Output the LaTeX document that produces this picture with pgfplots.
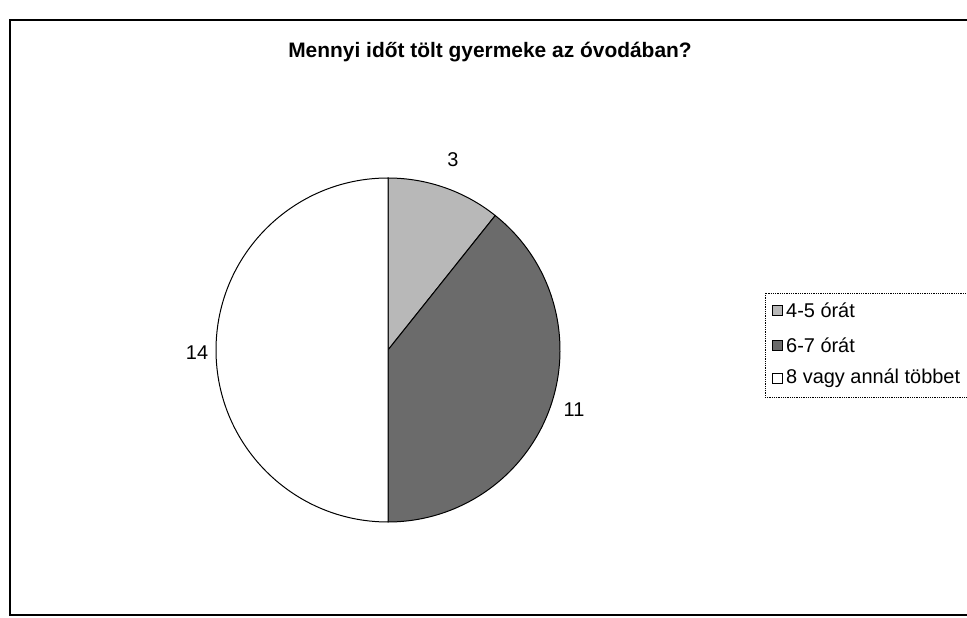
\documentclass[border=0pt]{standalone}
\usepackage{pgfplots}
\pgfplotsset{compat=1.18}
\usepackage{fontspec}
\setmainfont{Liberation Sans}

% slice values (clockwise from 12 o'clock)
\def\valA{3}
\def\valB{11}
\def\valC{14}

\definecolor{sliceA}{gray}{0.72}
\definecolor{sliceB}{gray}{0.42}

\begin{document}
\begin{tikzpicture}
    \begin{axis}[
        width=967bp,
        height=618bp,
        scale only axis,
        xmin=0, xmax=967,
        ymin=0, ymax=618,
        hide axis,
        clip=true
    ]
        \pgfmathsetmacro{\tot}{\valA+\valB+\valC}
        \pgfmathsetmacro{\aA}{90-360*\valA/\tot}
        \pgfmathsetmacro{\aB}{\aA-360*\valB/\tot}
        \pgfmathsetmacro{\aC}{\aB-360*\valC/\tot}

        % outer frame (right side runs off the picture)
        \draw[line width=1.3pt] (axis cs:10,3) rectangle (axis cs:990,598);

        % title
        \node[font=\fontsize{21}{25}\selectfont\bfseries] at (axis cs:490,566)
            {Mennyi időt tölt gyermeke az óvodában?};

        % pie slices, radius 172
        \filldraw[fill=sliceA, draw=black, line width=1pt]
            (axis cs:388,268) -- ++(90:172bp) arc[start angle=90, end angle=\aA, radius=172bp] -- cycle;
        \filldraw[fill=sliceB, draw=black, line width=1pt]
            (axis cs:388,268) -- ++(\aA:172bp) arc[start angle=\aA, end angle=\aB, radius=172bp] -- cycle;
        \filldraw[fill=white, draw=black, line width=1pt]
            (axis cs:388,268) -- ++(\aB:172bp) arc[start angle=\aB, end angle=\aC, radius=172bp] -- cycle;

        % data labels
        \node[font=\fontsize{20}{24}\selectfont] at (axis cs:453,458) {\valA};
        \node[font=\fontsize{20}{24}\selectfont] at (axis cs:574,208) {\valB};
        \node[font=\fontsize{20}{24}\selectfont] at (axis cs:197,265) {\valC};

        % legend
        \draw[line width=0.8pt, densely dotted] (axis cs:765,325) rectangle (axis cs:990,221);
        \filldraw[fill=sliceA, draw=black, line width=0.8pt]
            (axis cs:772,303) rectangle (axis cs:782,313);
        \filldraw[fill=sliceB, draw=black, line width=0.8pt]
            (axis cs:772,268) rectangle (axis cs:782,278);
        \filldraw[fill=white, draw=black, line width=0.8pt]
            (axis cs:772,235) rectangle (axis cs:782,245);
        \node[anchor=west, font=\fontsize{20}{24}\selectfont, inner sep=0pt] at (axis cs:786,308) {4-5 órát};
        \node[anchor=west, font=\fontsize{20}{24}\selectfont, inner sep=0pt] at (axis cs:786,273) {6-7 órát};
        \node[anchor=west, font=\fontsize{20}{24}\selectfont, inner sep=0pt] at (axis cs:786,240) {8 vagy annál többet};
    \end{axis}
    \pgfresetboundingbox
    \path (current axis.south west) rectangle (current axis.north east);
\end{tikzpicture}
\end{document}
